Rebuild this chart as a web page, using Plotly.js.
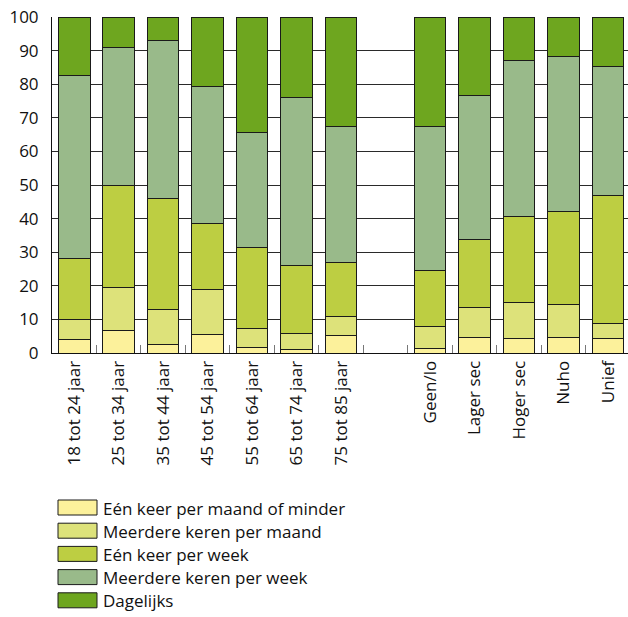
<!DOCTYPE html>
<html>
<head>
<meta charset="utf-8">
<script src="https://cdn.plot.ly/plotly-3.0.1.min.js"></script>
<style>html,body{margin:0;padding:0;background:#fff;}#chart{width:628px;height:617px;}</style>
</head>
<body>
<div id="chart"></div>
<script>
// Categories (the blank " " is the gap between age groups and education levels)
var categories = ["18 tot 24 jaar", "25 tot 34 jaar", "35 tot 44 jaar", "45 tot 54 jaar",
  "55 tot 64 jaar", "65 tot 74 jaar", "75 tot 85 jaar", " ",
  "Geen/lo", "Lager sec", "Hoger sec", "Nuho", "Unief"];

var seriesNames = ["Eén keer per maand of minder", "Meerdere keren per maand",
  "Eén keer per week", "Meerdere keren per week", "Dagelijks"];

var eenKeerPerMaandOfMinder = [4.1, 6.8, 2.4, 5.5, 1.7, 1.0, 5.3, null, 1.4, 4.5, 4.2, 4.6, 4.3];
var meerdereKerenPerMaand   = [6.0, 12.6, 10.4, 13.3, 5.6, 4.9, 5.5, null, 6.5, 8.9, 10.8, 9.8, 4.4];
var eenKeerPerWeek          = [18.0, 30.4, 33.3, 19.6, 24.0, 20.1, 16.0, null, 16.6, 20.4, 25.5, 27.6, 38.2];
var meerdereKerenPerWeek    = [54.6, 41.0, 46.9, 40.9, 34.3, 50.0, 40.6, null, 42.8, 42.9, 46.7, 46.1, 38.3];
var dagelijks               = [17.3, 9.2, 7.0, 20.7, 34.4, 24.0, 32.6, null, 32.7, 23.3, 12.8, 11.9, 14.8];

var yTickVals = [0, 10, 20, 30, 40, 50, 60, 70, 80, 90, 100];

var seriesValues = [eenKeerPerMaandOfMinder, meerdereKerenPerMaand, eenKeerPerWeek, meerdereKerenPerWeek, dagelijks];
var colors = ["#FCF19B", "#DDE27A", "#BDCE42", "#99BA8A", "#6EA61F"];

var FONT = "'Open Sans', 'Noto Sans', sans-serif";

var traces = seriesValues.map(function (vals, i) {
  return {
    type: "bar",
    name: seriesNames[i],
    x: categories,
    y: vals,
    width: 0.71,
    marker: { color: colors[i], line: { color: "#1a1a1a", width: 1 } },
    showlegend: false,
    hoverinfo: "x+y+name"
  };
});

// Page layout in pixels
var W = 628, H = 617, ML = 52, MR = 0, MT = 17, MB = 264;
var plotW = W - ML - MR, plotH = H - MT - MB;
function px2x(px) { return (px - ML) / plotW; }
function py2y(py) { return (H - MB - py) / plotH; }

// Custom legend (boxes + text) below the plot
var shapes = [], annotations = [];
for (var k = 0; k < seriesNames.length; k++) {
  var boxTop = 500 + k * 23.2, boxBot = boxTop + 15;
  shapes.push({
    type: "rect", xref: "paper", yref: "paper",
    x0: px2x(58), x1: px2x(97), y0: py2y(boxBot), y1: py2y(boxTop),
    fillcolor: colors[k], line: { color: "#1a1a1a", width: 1 }
  });
  annotations.push({
    xref: "paper", yref: "paper", x: px2x(101), y: py2y((boxTop + boxBot) / 2 + 0.5),
    xanchor: "left", yanchor: "middle", showarrow: false,
    text: seriesNames[k], font: { family: FONT, size: 17, color: "#111" }
  });
}

var layout = {
  width: W, height: H,
  margin: { l: ML, r: MR, t: MT, b: MB, pad: 0 },
  barmode: "stack",
  paper_bgcolor: "#fff", plot_bgcolor: "#fff",
  font: { family: FONT, size: 17, color: "#111" },
  showlegend: false,
  xaxis: {
    type: "category",
    categoryorder: "array",
    categoryarray: categories,
    range: [-0.5, 12.45],
    tickson: "boundaries",
    ticks: "inside", ticklen: 8, tickwidth: 1, tickcolor: "#777",
    showgrid: false,
    showline: true, linecolor: "#111", linewidth: 1,
    tickangle: -90,
    tickfont: { family: FONT, size: 17, color: "#111" },
    fixedrange: true
  },
  yaxis: {
    range: [0, 100],
    tickvals: yTickVals,
    ticktext: yTickVals.map(String),
    ticks: "",
    showgrid: true, gridcolor: "#2a2a2a", gridwidth: 1,
    zeroline: true, zerolinecolor: "#111", zerolinewidth: 1,
    showline: true, linecolor: "#111", linewidth: 1,
    ticklabelstandoff: 9,
    tickfont: { family: FONT, size: 17, color: "#111" },
    fixedrange: true
  },
  shapes: shapes,
  annotations: annotations
};

Plotly.newPlot("chart", traces, layout, { displayModeBar: false, staticPlot: true });
</script>
</body>
</html>
